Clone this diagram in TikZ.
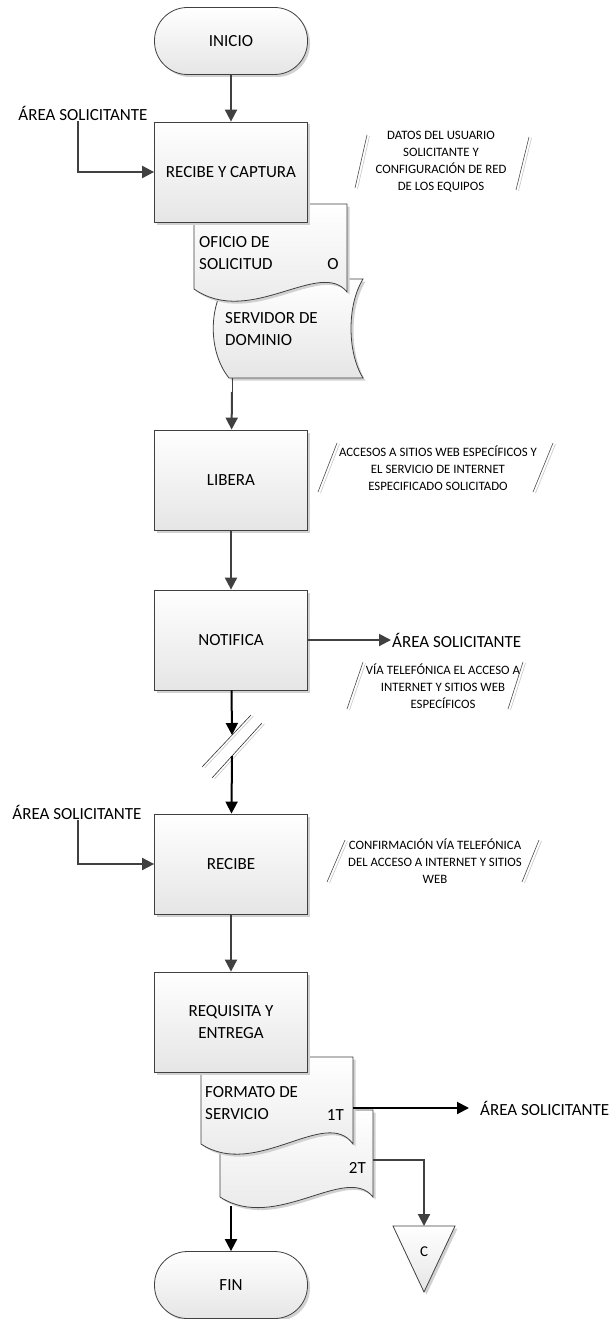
\documentclass[tikz,border=0pt]{standalone}
\usepackage{fontspec}
\setmainfont{Carlito}
\usetikzlibrary{arrows.meta,shadows}
\definecolor{ln}{HTML}{404040}
\tikzset{
  big/.style={font=\fontsize{17}{22}\selectfont, inner sep=1pt},
  small/.style={font=\fontsize{12.8}{17}\selectfont, align=center, inner sep=1pt},
  myshadow/.style={drop shadow={shadow xshift=2.5pt, shadow yshift=-2.5pt, fill=black!18, opacity=1}},
  shapefill/.style={draw=ln, line width=0.8pt, top color=white, bottom color=black!10, myshadow},
  procbox/.style={shapefill, minimum width=153pt, minimum height=100pt, big, align=center},
  term/.style={procbox, minimum height=67pt, rounded corners=33pt},
  conn/.style={draw=ln, line width=2pt, -{Triangle[length=12pt,width=12pt]}},
  bconn/.style={conn, draw=black},
  thinconn/.style={draw=ln, line width=1pt},
  anno/.style={draw=black!70, line width=0.6pt},
  annosh/.style={draw=black!22, line width=0.6pt},
  brk/.style={draw=black!80, line width=0.6pt},
}
\begin{document}
\begin{tikzpicture}[x=1pt,y=-1pt]
\useasboundingbox (0,0) rectangle (614,1319);
\fill[white] (0,0) rectangle (614,1319);

% ---- INICIO / RECIBE Y CAPTURA ----
\node[term] (inicio) at (231,41) {INICIO};

% stored data (servidor de dominio)
\path[shapefill] (229,279) -- (363,279) .. controls (347,305) and (347,352) .. (363,378)
   -- (229,378) .. controls (208,352) and (208,305) .. (229,279) -- cycle;
\node[big, align=left, anchor=west] (serv) at (224,329) {SERVIDOR DE\\DOMINIO};

% document oficio
\path[shapefill] (194,204) -- (347,204) -- (347,292) .. controls (320,258) and (250,328) .. (194,289) -- cycle;
\node[big, align=left, anchor=west] (ofi) at (198,253) {OFICIO DE\\SOLICITUD};
\node[big] (ofo) at (333,264) {O};

\node[procbox] (rc) at (231,172) {RECIBE Y CAPTURA};

\draw[conn] (inicio) -- (rc);

\node[big] (a1) at (83,113) {ÁREA SOLICITANTE};
\draw[conn] ([xshift=-5pt]a1.south) |- (rc.west);

\node[small] (d1) at (441,162) {DATOS DEL USUARIO\\SOLICITANTE Y\\CONFIGURACIÓN DE RED\\DE LOS EQUIPOS};
\draw[annosh] (369.5,136) -- (357.5,189);
\draw[anno] (367,135) -- (355,188);
\draw[annosh] (531.5,138) -- (518.5,191);
\draw[anno] (529,137) -- (516,190);

% ---- LIBERA ----
\node[procbox] (lib) at (231,480) {LIBERA};
\coordinate (svb) at (232,378);
\coordinate (svm) at (232,392);
\draw[thinconn] (svb) -- (svm);
\draw[conn] (svm) -- (lib);

\node[small] (d2) at (438,468) {ACCESOS A SITIOS WEB ESPECÍFICOS Y\\EL SERVICIO DE INTERNET\\ESPECIFICADO SOLICITADO};
\draw[annosh] (339.5,444) -- (320.5,493);
\draw[anno] (337,443) -- (318,492);
\draw[annosh] (555.5,444) -- (535.5,493);
\draw[anno] (553,443) -- (533,492);

% ---- NOTIFICA ----
\node[procbox] (not) at (231,640) {NOTIFICA};
\draw[conn] (lib) -- (not);

\node[big, anchor=west] (a2) at (391,640) {ÁREA SOLICITANTE};
\draw[conn] (not) -- (a2);

\node[small] (d3) at (443,686) {VÍA TELEFÓNICA EL ACCESO A\\INTERNET Y SITIOS WEB\\ESPECÍFICOS};
\draw[annosh] (365.5,663) -- (349.5,710);
\draw[anno] (363,662) -- (347,709);
\draw[annosh] (525.5,663) -- (510.5,710);
\draw[anno] (523,662) -- (508,709);

% ---- break ----
\coordinate (br1) at (232,735);
\coordinate (br2) at (232,756);
\draw[bconn] (not) -- (br1);
\draw[annosh] (204.5,768) -- (253.5,716);
\draw[brk] (202,767) -- (251,715);
\draw[annosh] (214.5,779) -- (264.5,724);
\draw[brk] (212,778) -- (262,723);

% ---- RECIBE ----
\node[procbox] (rec) at (231,864) {RECIBE};
\draw[bconn] (br2) -- (rec);

\node[big] (a3) at (77,812) {ÁREA SOLICITANTE};
\draw[conn] ([xshift=1pt]a3.south) |- (rec.west);

\node[small] (d4) at (435,861) {CONFIRMACIÓN VÍA TELEFÓNICA\\DEL ACCESO A INTERNET Y SITIOS\\WEB};
\draw[annosh] (347.5,841) -- (329.5,883);
\draw[anno] (345,840) -- (327,882);
\draw[annosh] (541.5,841) -- (524.5,883);
\draw[anno] (539,840) -- (522,882);

% ---- REQUISITA Y ENTREGA + documents ----
\path[shapefill] (220,1110) -- (373,1110) -- (373,1197) .. controls (346,1163) and (276,1233) .. (220,1197) -- cycle;
\node[big, anchor=east] (t2) at (367,1168) {2T};
\path[shapefill] (201,1057) -- (353,1057) -- (353,1144) .. controls (326,1106) and (256,1180) .. (201,1144) -- cycle;
\node[big, align=left, anchor=west] (fmt) at (204,1103) {FORMATO DE\\SERVICIO};
\node[big, anchor=east] (t1) at (345,1115) {1T};

\node[procbox] (req) at (231,1022) {REQUISITA Y\\ENTREGA};
\draw[conn] (rec) -- (req);

\coordinate (d1r) at (353,1108);
\node[big, anchor=west] (a4) at (479,1108) {ÁREA SOLICITANTE};
\draw[bconn] (d1r) -- ([xshift=-10pt]a4.west);

% connector C
\path[shapefill] (393,1226) -- (455,1226) -- (424,1292) -- cycle;
\node[font=\fontsize{15}{18}\selectfont] (c) at (424,1252) {C};
\coordinate (ctop) at (424,1226);
\coordinate (d2r) at (373,1160);
\draw[conn] (d2r) -| (ctop);

% ---- FIN ----
\node[term] (fin) at (231,1285) {FIN};
\coordinate (d2b) at (231,1206);
\draw[bconn] (d2b) -- (fin);
\end{tikzpicture}
\end{document}
